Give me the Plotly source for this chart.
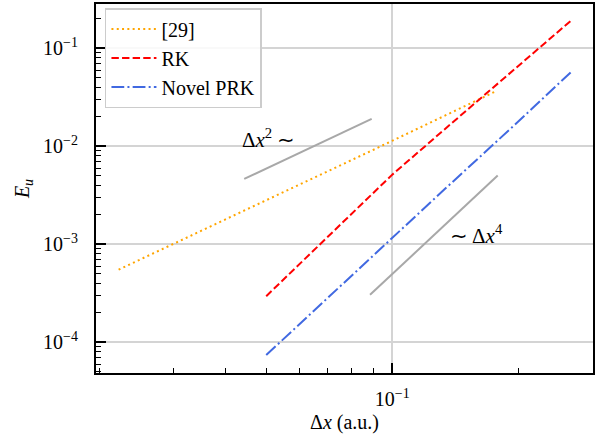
import numpy as np
import plotly.graph_objects as go

# ---- data ----
x_ref29 = [0.0222, 0.0444, 0.0889, 0.1778]
y_ref29 = [5.53e-4, 2.23e-3, 8.99e-3, 0.0370]

x_rk = [0.05, 0.0667, 0.1, 0.1333, 0.2, 0.2667]
y_rk = [2.965e-4, 9.70e-4, 5.16e-3, 1.493e-2, 6.65e-2, 0.191]

x_prk = [0.05, 0.0667, 0.1, 0.1333, 0.2, 0.2667]
y_prk = [7.43e-5, 2.344e-4, 1.178e-3, 3.65e-3, 1.795e-2, 0.0570]

x_slope2 = [0.0443, 0.0893]
y_slope2 = [4.66e-3, 1.91e-2]
x_slope4 = [0.0885, 0.1786]
y_slope4 = [3.06e-4, 5.05e-3]

y_tickvals = [1e-4, 1e-3, 1e-2, 1e-1]
y_ticktext = ["10<sup>−4</sup>", "10<sup>−3</sup>", "10<sup>−2</sup>", "10<sup>−1</sup>"]
x_tickvals = [1e-1]
x_ticktext = ["10<sup>−1</sup>"]
y_minor = [m * 10.0 ** e for e in range(-5, 0) for m in range(2, 10)]
x_minor = [m * 10.0 ** e for e in range(-2, 0) for m in range(2, 10)]

FONT = "Liberation Serif, Times New Roman, serif"
FS = 20

fig = go.Figure()
fig.add_trace(go.Scatter(x=x_slope2, y=y_slope2, mode="lines", showlegend=False,
                         line=dict(color="#a8a8a8", width=2)))
fig.add_trace(go.Scatter(x=x_slope4, y=y_slope4, mode="lines", showlegend=False,
                         line=dict(color="#a8a8a8", width=2)))
fig.add_trace(go.Scatter(x=x_ref29, y=y_ref29, mode="lines", name="[29]",
                         line=dict(color="#FFA500", width=2, dash="2px,3.3px")))
fig.add_trace(go.Scatter(x=x_rk, y=y_rk, mode="lines", name="RK",
                         line=dict(color="#FF0000", width=2, dash="7.4px,3.2px")))
fig.add_trace(go.Scatter(x=x_prk, y=y_prk, mode="lines", name="Novel PRK",
                         line=dict(color="#4169E1", width=2, dash="12.8px,3.2px,2px,3.2px")))

fig.add_annotation(x=np.log10(0.0432), y=np.log10(0.0120), xref="x", yref="y",
                   text="Δ<i>x</i><sup>2</sup> ∼", showarrow=False,
                   xanchor="left", yanchor="middle",
                   font=dict(family=FONT, size=21, color="black"))
fig.add_annotation(x=np.log10(0.1360), y=np.log10(1.27e-3), xref="x", yref="y",
                   text="∼ Δ<i>x</i><sup>4</sup>", showarrow=False,
                   xanchor="left", yanchor="middle",
                   font=dict(family=FONT, size=21, color="black"))

axis_common = dict(
    type="log", showline=True, linecolor="black", linewidth=2, mirror=True,
    ticks="inside", ticklen=10, tickwidth=1.5, tickcolor="black",
    showgrid=True, gridcolor="#d4d4d4", gridwidth=1.5, zeroline=False,
    tickfont=dict(family=FONT, size=FS, color="black"),
)

fig.update_xaxes(**axis_common, range=[-1.7076, -0.5205],
                 tickvals=x_tickvals, ticktext=x_ticktext, ticklabelstandoff=7,
                 minor=dict(tickmode="array", tickvals=x_minor, ticks="inside", ticklen=5,
                            tickwidth=1.2, tickcolor="black", showgrid=False),
                 title=dict(text="Δ<i>x</i> (a.u.)", font=dict(family=FONT, size=FS, color="black"), standoff=6))
fig.update_yaxes(**axis_common, range=[-4.312, -0.546],
                 tickvals=y_tickvals, ticktext=y_ticktext, ticklabelstandoff=12,
                 minor=dict(tickmode="array", tickvals=y_minor, ticks="inside", ticklen=5,
                            tickwidth=1.2, tickcolor="black", showgrid=False),
                 title=dict(text="<i>E<sub>u</sub></i>", font=dict(family=FONT, size=FS, color="black"), standoff=8))

fig.update_layout(
    width=601, height=438,
    margin=dict(l=96, r=8, t=2, b=65),
    plot_bgcolor="white", paper_bgcolor="white",
    font=dict(family=FONT, size=FS, color="black"),
    legend=dict(x=0.018, y=0.989, xanchor="left", yanchor="top", itemwidth=45,
                bgcolor="rgba(255,255,255,0.85)", bordercolor="#cccccc", borderwidth=1.5,
                font=dict(family=FONT, size=20, color="black"), tracegroupgap=0),
)

fig.write_html("out.html")
